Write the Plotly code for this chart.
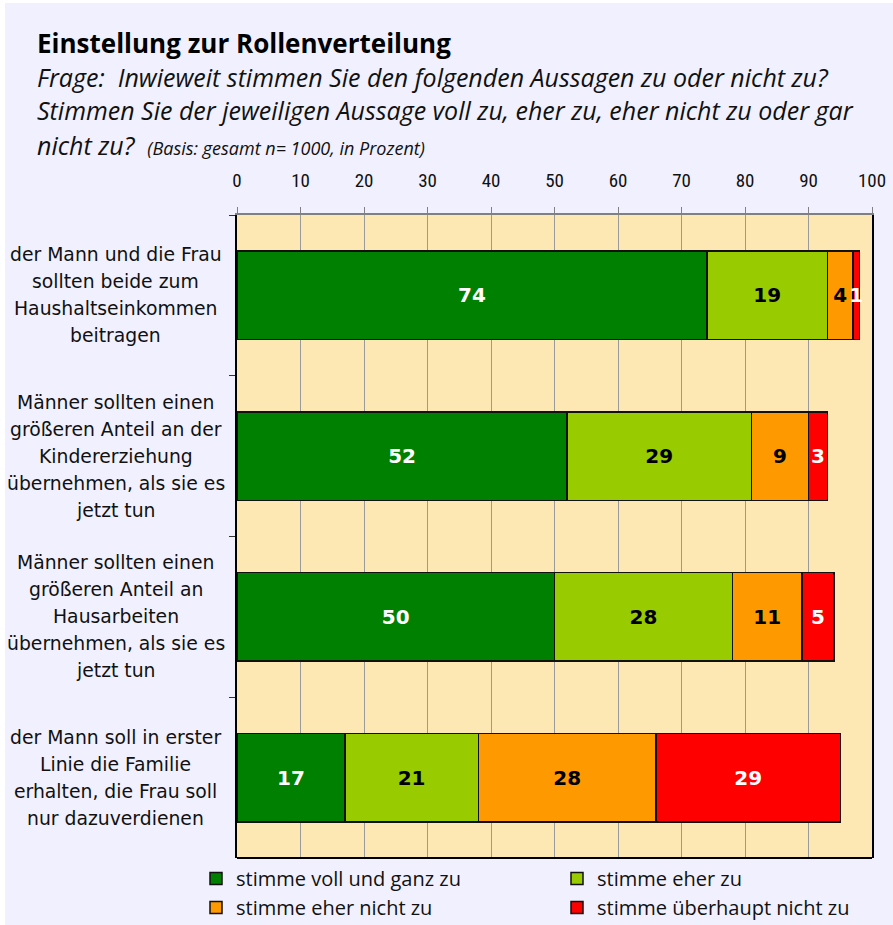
import plotly.graph_objects as go

W, H = 893, 925
ML, MR, MT, MB = 237, 21, 215, 67
PW, PH = W - ML - MR, H - MT - MB

def px_x(px):
    return (px - ML) / PW

def px_y(py):
    return (H - MB - py) / PH

categories = [
    "der Mann und die Frau sollten beide zum Haushaltseinkommen beitragen",
    "Männer sollten einen größeren Anteil an der Kindererziehung übernehmen, als sie es jetzt tun",
    "Männer sollten einen größeren Anteil an Hausarbeiten übernehmen, als sie es jetzt tun",
    "der Mann soll in erster Linie die Familie erhalten, die Frau soll nur dazuverdienen",
]
category_lines = [
    ["der Mann und die Frau", "sollten beide zum", "Haushaltseinkommen", "beitragen"],
    ["Männer sollten einen", "größeren Anteil an der", "Kindererziehung", "übernehmen, als sie es", "jetzt tun"],
    ["Männer sollten einen", "größeren Anteil an", "Hausarbeiten", "übernehmen, als sie es", "jetzt tun"],
    ["der Mann soll in erster", "Linie die Familie", "erhalten, die Frau soll", "nur dazuverdienen"],
]
series_names = ["stimme voll und ganz zu", "stimme eher zu", "stimme eher nicht zu", "stimme überhaupt nicht zu"]
voll_zu = [74, 52, 50, 17]
eher_zu = [19, 29, 28, 21]
eher_nicht_zu = [4, 9, 11, 28]
gar_nicht_zu = [1, 3, 5, 29]
series_values = [voll_zu, eher_zu, eher_nicht_zu, gar_nicht_zu]
series_colors = ["#008000", "#99CC00", "#FF9900", "#FF0000"]
text_colors = ["white", "black", "black", "white"]
x_ticks = [0, 10, 20, 30, 40, 50, 60, 70, 80, 90, 100]

NARROW = "Roboto Condensed, Liberation Sans Narrow, sans-serif"
OPEN = "Open Sans, Noto Sans, sans-serif"
BODY = "DejaVu Sans, Verdana, sans-serif"

fig = go.Figure()
for name, vals, col, tcol in zip(series_names, series_values, series_colors, text_colors):
    fig.add_trace(go.Bar(
        y=categories, x=vals, name=name, orientation="h",
        marker=dict(color=col, line=dict(color="#111111", width=1.5)),
        width=0.55,
        text=[str(v) for v in vals], textposition="inside",
        insidetextanchor="middle", textangle=0, constraintext="none",
        textfont=dict(family=BODY, size=20, color=tcol, weight="bold"),
        hoverinfo="x+name",
    ))

annotations = []
annotations.append(dict(
    text="<b>Einstellung zur Rollenverteilung</b>", xref="paper", yref="paper",
    x=px_x(35), y=px_y(43), xanchor="left", yanchor="middle", showarrow=False,
    font=dict(family=OPEN, size=26, color="black")))
sub_lines = [
    ("<i>Frage:  Inwieweit stimmen Sie den folgenden Aussagen zu oder nicht zu?</i>", 77),
    ("<i>Stimmen Sie der jeweiligen Aussage voll zu, eher zu, eher nicht zu oder gar</i>", 110),
    ("<i>nicht zu?  <span style='font-size:18px'>(Basis: gesamt n= 1000, in Prozent)</span></i>", 145),
]
for t, yy in sub_lines:
    annotations.append(dict(
        text=t, xref="paper", yref="paper", x=px_x(35), y=px_y(yy),
        xanchor="left", yanchor="middle", showarrow=False,
        font=dict(family=OPEN, size=25, color="#111111")))

LINE_H = 27
for cat, lines in zip(categories, category_lines):
    n = len(lines)
    for i, ln in enumerate(lines):
        annotations.append(dict(
            text=ln, xref="paper", yref="y", x=px_x(116), y=cat,
            xanchor="center", yanchor="middle", showarrow=False,
            yshift=((n - 1) / 2 - i) * LINE_H,
            font=dict(family=BODY, size=18.8, color="#111111")))

shapes = [
    dict(type="rect", xref="paper", yref="paper", x0=px_x(0), x1=px_x(5), y0=px_y(H), y1=px_y(0),
         fillcolor="white", line=dict(width=0), layer="below"),
    dict(type="rect", xref="paper", yref="paper", x0=px_x(0), x1=px_x(W), y0=px_y(3), y1=px_y(0),
         fillcolor="white", line=dict(width=0), layer="below"),
    dict(type="line", xref="paper", yref="paper", x0=0, x1=1, y0=0, y1=0,
         line=dict(color="black", width=2), layer="above"),
]

fig.update_layout(
    width=W, height=H, barmode="stack",
    margin=dict(l=ML, r=MR, t=MT, b=MB, autoexpand=False),
    paper_bgcolor="#F0F0FE", plot_bgcolor="#FDE7B3",
    annotations=annotations, shapes=shapes,
    showlegend=True,
    legend=dict(orientation="h", x=px_x(196), y=px_y(859), xanchor="left", yanchor="top",
                entrywidth=316, entrywidthmode="pixels", traceorder="normal",
                font=dict(family=OPEN, size=20, color="#111111"),
                bgcolor="rgba(0,0,0,0)", itemclick=False, tracegroupgap=0),
    xaxis=dict(side="top", range=[0, 100], tickvals=x_ticks, ticktext=[str(v) for v in x_ticks],
               ticks="outside", ticklen=6, tickcolor="#808080", tickwidth=1,
               showline=True, linecolor="#808080", linewidth=1.5,
               showgrid=True, gridcolor="#9a9a9a", gridwidth=1, zeroline=False,
               tickfont=dict(family=NARROW, size=19, color="#111111"), ticklabelstandoff=13,
               fixedrange=True),
    yaxis=dict(type="category", autorange="reversed", showticklabels=False,
               ticks="outside", tickson="boundaries", ticklen=6, tickcolor="#333333",
               showline=True, linecolor="black", linewidth=2, mirror=True,
               showgrid=False, zeroline=False, fixedrange=True),
)

fig.write_html("out.html", config={"displayModeBar": False},
               post_script="document.body.style.margin='0';")
